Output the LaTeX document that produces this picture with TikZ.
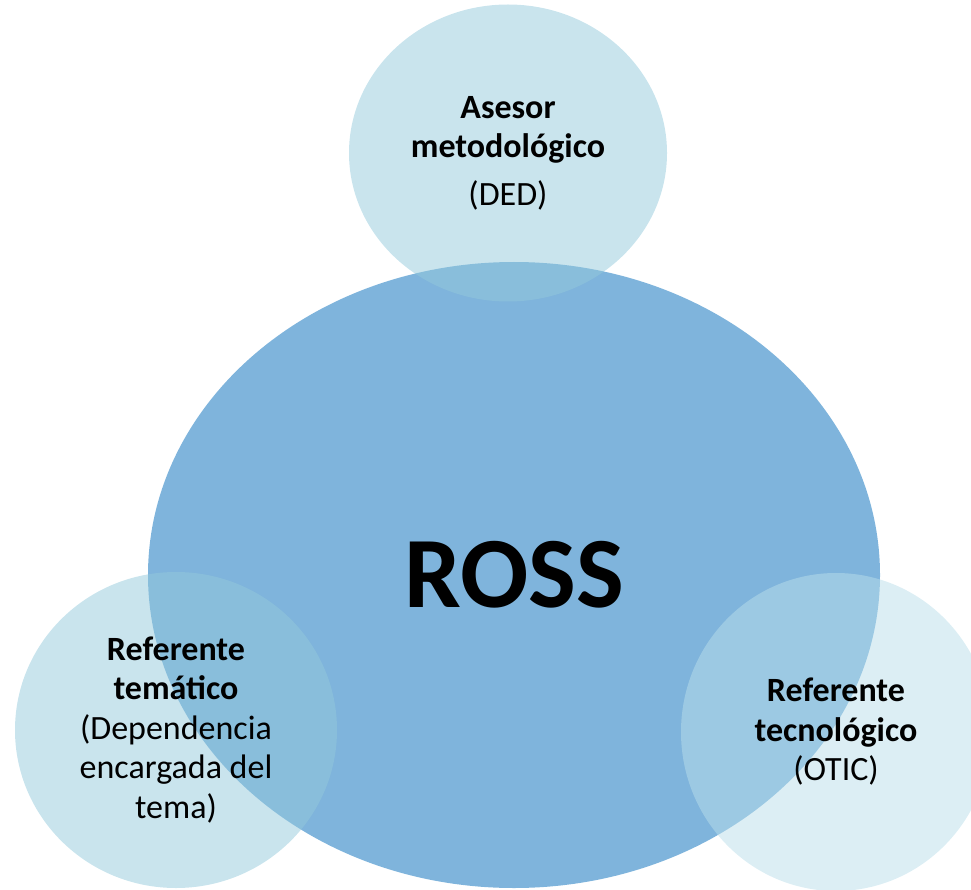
\documentclass[tikz,border=0pt]{standalone}
\usepackage{fontspec}
\setmainfont{Carlito}
\usetikzlibrary{shapes.geometric}
\definecolor{rossblue}{HTML}{7FB4DC}
\definecolor{satellite}{HTML}{93C9DB}
\definecolor{satellitepale}{HTML}{BADEEA}

\begin{document}
\begin{tikzpicture}[x=1pt, y=-1pt,
    core/.style={ellipse, fill=rossblue, inner sep=0pt,
                 minimum width=732pt, minimum height=626pt,
                 font=\fontsize{101}{110}\selectfont\bfseries},
    bubble/.style={ellipse, fill=satellite, fill opacity=0.5, text opacity=1,
                   inner sep=0pt, minimum width=320pt, minimum height=300pt,
                   align=center, font=\fontsize{34}{39.5}\selectfont}
  ]
    \useasboundingbox (0,0) rectangle (971,890);
    \clip (0,0) rectangle (971,890);
    \node[core] (ross) at (514,575) {ROSS};
    \node[bubble, minimum width=318pt, minimum height=297pt] (asesor) at (508,153)
      {\textbf{Asesor}\\\textbf{metodológico}\\[8pt](DED)};
    \node[bubble, minimum width=322pt, minimum height=316pt] (tematico) at (176,730)
      {\textbf{Referente}\\\textbf{temático}\\(Dependencia\\encargada del\\tema)};
    \node[bubble, fill=satellitepale, minimum width=310pt, minimum height=318pt] (tecno) at (836,732)
      {\textbf{Referente}\\\textbf{tecnológico}\\(OTIC)};
  \end{tikzpicture}
\end{document}
